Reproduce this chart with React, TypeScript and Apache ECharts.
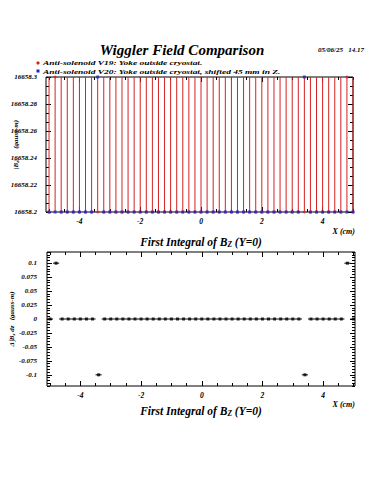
import React, { useEffect, useRef } from 'react';
import * as echarts from 'echarts';

// ---------- data ----------
const xPositions = [
  -5, -4.8, -4.6, -4.4, -4.2, -4, -3.8, -3.6, -3.4, -3.2, -3, -2.8, -2.6, -2.4, -2.2, -2,
  -1.8, -1.6, -1.4, -1.2, -1, -0.8, -0.6, -0.4, -0.2, 0, 0.2, 0.4, 0.6, 0.8, 1, 1.2, 1.4,
  1.6, 1.8, 2, 2.2, 2.4, 2.6, 2.8, 3, 3.2, 3.4, 3.6, 3.8, 4, 4.2, 4.4, 4.6, 4.8, 5,
];
// Anti-solenoid V19 (red), |B_z| integral, gauss-m
const v19Field = [
  16658.2, 16658.3, 16658.2, 16658.2, 16658.2, 16658.2, 16658.2, 16658.2, 16658.2, 16658.2,
  16658.2, 16658.2, 16658.2, 16658.2, 16658.2, 16658.2, 16658.2, 16658.2, 16658.2, 16658.2,
  16658.2, 16658.2, 16658.2, 16658.2, 16658.2, 16658.2, 16658.2, 16658.2, 16658.2, 16658.2,
  16658.2, 16658.2, 16658.2, 16658.2, 16658.2, 16658.2, 16658.2, 16658.2, 16658.2, 16658.2,
  16658.2, 16658.2, 16658.2, 16658.2, 16658.2, 16658.2, 16658.2, 16658.2, 16658.2, 16658.3,
  16658.2,
];
const v19FieldErr = 0.5;
// Anti-solenoid V20 (blue)
const v20Field = [
  16658.2, 16658.2, 16658.2, 16658.2, 16658.2, 16658.2, 16658.2, 16658.2, 16658.3, 16658.2,
  16658.2, 16658.2, 16658.2, 16658.2, 16658.2, 16658.2, 16658.2, 16658.2, 16658.2, 16658.2,
  16658.2, 16658.2, 16658.2, 16658.2, 16658.2, 16658.2, 16658.2, 16658.2, 16658.2, 16658.2,
  16658.2, 16658.2, 16658.2, 16658.2, 16658.2, 16658.2, 16658.2, 16658.2, 16658.2, 16658.2,
  16658.2, 16658.2, 16658.3, 16658.2, 16658.2, 16658.2, 16658.2, 16658.2, 16658.2, 16658.2,
  16658.2,
];
// Difference of the integrals
const deltaIntegral = [
  0, 0.1, 0, 0, 0, 0, 0, 0, -0.1, 0,
  0, 0, 0, 0, 0, 0, 0, 0, 0, 0,
  0, 0, 0, 0, 0, 0, 0, 0, 0, 0,
  0, 0, 0, 0, 0, 0, 0, 0, 0, 0,
  0, 0, -0.1, 0, 0, 0, 0, 0, 0, 0.1,
  0,
];
const deltaXErr = 0.1;

// ---------- ticks ----------
const xMajorTicks = [-4, -2, 0, 2, 4];
const xMinorTicks = [-5, -4.5, -3.5, -3, -2.5, -1.5, -1, -0.5, 0.5, 1, 1.5, 2.5, 3, 3.5, 4.5, 5];
const topYMajorTicks = [16658.2, 16658.22, 16658.24, 16658.26, 16658.28, 16658.3];
const topYMinorTicks = [
  16658.2067, 16658.2133, 16658.2267, 16658.2333, 16658.2467, 16658.2533,
  16658.2667, 16658.2733, 16658.2867, 16658.2933,
];
const bottomYMajorTicks = [-0.1, -0.075, -0.05, -0.025, 0, 0.025, 0.05, 0.075, 0.1];
const bottomYMinorTicks = [
  -0.12, -0.115, -0.11, -0.105, -0.095, -0.09, -0.085, -0.08, -0.07, -0.065, -0.06, -0.055,
  -0.045, -0.04, -0.035, -0.03, -0.02, -0.015, -0.01, -0.005, 0.005, 0.01, 0.015, 0.02,
  0.03, 0.035, 0.04, 0.045, 0.055, 0.06, 0.065, 0.07, 0.08, 0.085, 0.09, 0.095, 0.105,
  0.11, 0.115, 0.12,
];

const FONT = '"Liberation Serif", "DejaVu Serif", serif';
const RED = '#d42222';
const BLUE = '#2222c8';

function xAxes(gridIndex: number, min: number, max: number) {
  const base = {
    gridIndex, type: 'value', min, max,
    axisLine: { show: false, onZero: false },
    splitLine: { show: false },
  };
  return [
    {
      ...base, position: 'bottom',
      axisTick: { show: true, inside: true, length: 5, lineStyle: { color: '#000' }, customValues: xMajorTicks },
      axisLabel: {
        show: true, customValues: xMajorTicks, margin: 5,
        fontFamily: FONT, fontSize: 7.5, fontWeight: 'bold', fontStyle: 'italic', color: '#000',
      },
    },
    {
      ...base, position: 'bottom',
      axisTick: { show: true, inside: true, length: 3, lineStyle: { color: '#000' }, customValues: xMinorTicks },
      axisLabel: { show: false },
    },
    {
      ...base, position: 'top',
      axisTick: { show: true, inside: true, length: 5, lineStyle: { color: '#000' }, customValues: xMajorTicks },
      axisLabel: { show: false },
    },
    {
      ...base, position: 'top',
      axisTick: { show: true, inside: true, length: 3, lineStyle: { color: '#000' }, customValues: xMinorTicks },
      axisLabel: { show: false },
    },
  ];
}

function yAxes(
  gridIndex: number, min: number, max: number, major: number[], minor: number[],
  fmt: (v: number) => string, margin: number, name: string, nameGap: number, rich: any,
) {
  const base = {
    gridIndex, type: 'value', min, max,
    axisLine: { show: false, onZero: false },
    splitLine: { show: false },
  };
  return [
    {
      ...base, position: 'left',
      name, nameLocation: 'middle', nameRotate: 90, nameGap, nameMoveOverlap: false,
      nameTextStyle: { fontFamily: FONT, fontSize: 7, fontWeight: 'bold', fontStyle: 'italic', color: '#000', rich },
      axisTick: { show: true, inside: true, length: 5, lineStyle: { color: '#000' }, customValues: major },
      axisLabel: {
        show: true, customValues: major, margin, formatter: fmt,
        fontFamily: FONT, fontSize: 7, fontWeight: 'bold', fontStyle: 'italic', color: '#000',
      },
    },
    {
      ...base, position: 'left',
      axisTick: { show: true, inside: true, length: 3, lineStyle: { color: '#000' }, customValues: minor },
      axisLabel: { show: false },
    },
    {
      ...base, position: 'right',
      axisTick: { show: true, inside: true, length: 5, lineStyle: { color: '#000' }, customValues: major },
      axisLabel: { show: false },
    },
    {
      ...base, position: 'right',
      axisTick: { show: true, inside: true, length: 3, lineStyle: { color: '#000' }, customValues: minor },
      axisLabel: { show: false },
    },
  ];
}

const richSub = {
  a: { fontFamily: FONT, fontSize: 7, fontWeight: 'bold', fontStyle: 'italic', color: '#000' },
  s: { fontFamily: FONT, fontSize: 5, fontWeight: 'bold', fontStyle: 'italic', color: '#000', padding: [3, 0, 0, 0] },
};
const richTitle = {
  a: { fontFamily: FONT, fontSize: 11.5, fontWeight: 'bold', fontStyle: 'italic', color: '#000' },
  s: { fontFamily: FONT, fontSize: 7.5, fontWeight: 'bold', fontStyle: 'italic', color: '#000', padding: [5, 0, 0, 0] },
};

function vErrRender(color: string) {
  return (params: any, api: any) => {
    const x = api.value(0), y = api.value(1), e = api.value(2);
    const top = api.coord([x, y + e]);
    const bot = api.coord([x, y - e]);
    const cs = params.coordSys;
    const y1 = Math.max(top[1], cs.y);
    const y2 = Math.min(bot[1], cs.y + cs.height);
    if (top[0] < cs.x - 0.5 || top[0] > cs.x + cs.width + 0.5) return null;
    return { type: 'line', shape: { x1: top[0], y1, x2: top[0], y2 }, style: { stroke: color, lineWidth: 1 } };
  };
}
function hErrRender(color: string) {
  return (params: any, api: any) => {
    const x = api.value(0), y = api.value(1), e = api.value(2);
    const l = api.coord([x - e, y]);
    const r = api.coord([x + e, y]);
    const cs = params.coordSys;
    const x1 = Math.max(l[0], cs.x);
    const x2 = Math.min(r[0], cs.x + cs.width);
    return { type: 'line', shape: { x1, y1: l[1], x2, y2: l[1] }, style: { stroke: color, lineWidth: 1 } };
  };
}

const labelFont = (size: number) => `italic bold ${size}px ${FONT}`;

export default function App() {
  const ref = useRef<HTMLDivElement>(null);
  useEffect(() => {
    if (!ref.current) return;
    const chart = echarts.init(ref.current, null, { renderer: 'svg' });
    const v19Err = xPositions.map((x, i) => [x, v19Field[i], v19FieldErr]);
    const v19Pts = xPositions.map((x, i) => [x, v19Field[i]]);
    const v20Pts = xPositions.map((x, i) => [x, v20Field[i]]);
    const dErr = xPositions.map((x, i) => [x, deltaIntegral[i], deltaXErr]);
    const dPts = xPositions.map((x, i) => [x, deltaIntegral[i]]);

    const topFmt = (v: number) => String(parseFloat(Number(v).toFixed(3)));
    const botFmt = (v: number) => String(parseFloat(Number(v).toFixed(3)));

    chart.setOption({
      animation: false,
      backgroundColor: '#fff',
      grid: [
        { left: 46, top: 77, width: 307, height: 135, show: true, borderColor: '#000', borderWidth: 1, backgroundColor: 'transparent', containLabel: false, outerBoundsMode: 'none' },
        { left: 47, top: 252, width: 308, height: 134, show: true, borderColor: '#000', borderWidth: 1, backgroundColor: 'transparent', containLabel: false, outerBoundsMode: 'none' },
      ],
      xAxis: [...xAxes(0, -5.1, 5.0), ...xAxes(1, -5.1, 5.05)],
      yAxis: [
        ...yAxes(0, 16658.2, 16658.3, topYMajorTicks, topYMinorTicks, topFmt, 9,
          '{a||B}{s|z}{a||      (gauss-m)}', 26, richSub),
        ...yAxes(1, -0.12, 0.12, bottomYMajorTicks, bottomYMinorTicks, botFmt, 10,
          '{a|Δ∫B}{s|z}{a| dz   (gauss-m)}', 31, richSub),
      ],
      series: [
        {
          type: 'custom', xAxisIndex: 0, yAxisIndex: 0, data: v19Err,
          renderItem: vErrRender(RED), encode: { x: 0, y: 1 }, silent: true,
        },
        {
          type: 'scatter', xAxisIndex: 0, yAxisIndex: 0, data: v19Pts,
          symbol: 'circle', symbolSize: 3, itemStyle: { color: RED }, silent: true,
        },
        {
          type: 'scatter', xAxisIndex: 0, yAxisIndex: 0, data: v20Pts,
          symbol: 'rect', symbolSize: 3, itemStyle: { color: BLUE }, silent: true,
        },
        {
          type: 'custom', xAxisIndex: 4, yAxisIndex: 4, data: dErr,
          renderItem: hErrRender('#000'), encode: { x: 0, y: 1 }, silent: true,
        },
        {
          type: 'scatter', xAxisIndex: 4, yAxisIndex: 4, data: dPts,
          symbol: 'rect', symbolSize: 3, itemStyle: { color: '#000' }, silent: true,
        },
      ],
      graphic: [
        {
          type: 'text', x: 182, y: 50,
          style: { text: 'Wiggler Field Comparison', font: labelFont(15), fill: '#000', align: 'center', verticalAlign: 'middle', textAlign: 'center', textVerticalAlign: 'middle' },
        },
        {
          type: 'text', x: 341, y: 50,
          style: { text: '05/06/25   14.17', font: labelFont(7), fill: '#000', align: 'center', verticalAlign: 'middle', textAlign: 'center', textVerticalAlign: 'middle' },
        },
        { type: 'circle', shape: { cx: 38, cy: 63, r: 1.6 }, style: { fill: RED } },
        {
          type: 'text', x: 43, y: 63, scaleX: 1.35,
          style: { text: 'Anti-solenoid V19: Yoke outside cryostat.', font: labelFont(7), fill: '#000', align: 'left', verticalAlign: 'middle', textAlign: 'left', textVerticalAlign: 'middle' },
        },
        { type: 'rect', shape: { x: 36.5, y: 69.5, width: 3, height: 3 }, style: { fill: BLUE } },
        {
          type: 'text', x: 43, y: 71.5, scaleX: 1.35,
          style: { text: 'Anti-solenoid V20: Yoke outside cryostat, shifted 45 mm in Z.', font: labelFont(7), fill: '#000', align: 'left', verticalAlign: 'middle', textAlign: 'left', textVerticalAlign: 'middle' },
        },
        {
          type: 'text', x: 355, y: 231,
          style: { text: 'X (cm)', font: labelFont(8), fill: '#000', align: 'right', verticalAlign: 'middle', textAlign: 'right', textVerticalAlign: 'middle' },
        },
        {
          type: 'text', x: 201, y: 242,
          style: { text: '{a|First Integral of B}{s|Z}{a| (Y=0)}', rich: richTitle, align: 'center', verticalAlign: 'middle', textAlign: 'center', textVerticalAlign: 'middle' },
        },
        {
          type: 'text', x: 355, y: 404,
          style: { text: 'X (cm)', font: labelFont(8), fill: '#000', align: 'right', verticalAlign: 'middle', textAlign: 'right', textVerticalAlign: 'middle' },
        },
        {
          type: 'text', x: 201, y: 411,
          style: { text: '{a|First Integral of B}{s|Z}{a| (Y=0)}', rich: richTitle, align: 'center', verticalAlign: 'middle', textAlign: 'center', textVerticalAlign: 'middle' },
        },
      ],
    });
    return () => chart.dispose();
  }, []);
  return <div ref={ref} style={{ position: 'absolute', left: 0, top: 0, width: 375, height: 500 }} />;
}
